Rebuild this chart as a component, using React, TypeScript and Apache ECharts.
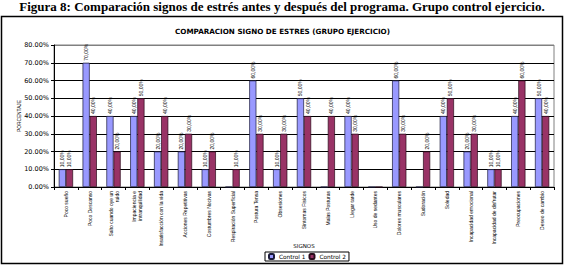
import React, { useEffect, useRef } from "react";
import * as echarts from "echarts";

const categories = [
  "Poco sueño",
  "Poco Descanso",
  "Salto cuando oye un\nruido",
  "Impaciencia e\nintranquilidad",
  "Insatisfacción con la vida",
  "Acciones Repetitivas",
  "Costumbres Nocivas",
  "Respiración Superficial",
  "Postura Tensa",
  "Obsesiones",
  "Síntomas Físicos",
  "Malas Posturas",
  "Llegar tarde",
  "Uso de sedantes",
  "Dolores musculares",
  "Sudoración",
  "Soledad",
  "Incapacidad emocional",
  "Incapacidad de disfrutar",
  "Preocupaciones",
  "Deseo de cambio",
];
const control1 = [10, 70, 40, 40, 20, 20, 10, 0, 60, 10, 50, 0, 40, 0, 60, 0, 40, 20, 10, 40, 50];
const control2 = [10, 40, 20, 50, 40, 30, 20, 10, 30, 30, 40, 40, 30, 0, 30, 20, 50, 30, 10, 60, 40];
const seriesNames = ["Control 1", "Control 2"];
const yTicks = { min: 0, max: 80, interval: 10 };

const caption =
  "Figura 8: Comparación signos de estrés antes y después del programa. Grupo control ejercicio.";
const chartTitle = "COMPARACION SIGNO DE ESTRES (GRUPO EJERCICIO)";

export default function App() {
  const ref = useRef<HTMLDivElement>(null);
  useEffect(() => {
    if (!ref.current) return;
    const chart = echarts.init(ref.current, null, { renderer: "svg" });
    const valueLabel = {
      show: true,
      position: "top",
      rotate: 90,
      align: "left",
      verticalAlign: "middle",
      distance: 2,
      fontSize: 5,
      fontFamily: "Liberation Sans",
      color: "#000",
      formatter: (p: any) => (p.value ? `${Number(p.value).toFixed(2).replace(".", ",")}%` : ""),
    };
    chart.setOption({
      animation: false,
      backgroundColor: "#fff",
      title: {
        text: chartTitle,
        left: "center",
        top: 23,
        textStyle: { fontSize: 7.2, fontFamily: "DejaVu Sans", fontWeight: "bold", color: "#000" },
      },
      graphic: [
        {
          type: "rect",
          z: -10,
          shape: { x: 1.5, y: 16.5, width: 561, height: 247 },
          style: { fill: "#fff", stroke: "#000", lineWidth: 1.5 },
        },
        {
          type: "text",
          x: 282,
          y: 0,
          style: {
            text: caption,
            font: 'bold 13px "Liberation Serif", "Times New Roman", serif',
            fill: "#000",
            align: "center",
            verticalAlign: "top",
          },
        },
      ],
      legend: {
        data: seriesNames,
        left: 265,
        top: 252,
        itemWidth: 5,
        itemHeight: 5,
        itemGap: 3,
        padding: [1, 3],
        borderColor: "#000",
        borderWidth: 1,
        textStyle: { fontSize: 5.8, fontFamily: "DejaVu Sans", color: "#000" },
      },
      grid: {
        left: 54,
        right: 11,
        top: 45,
        bottom: 79,
        show: true,
        backgroundColor: "#fff",
        borderColor: "#808080",
        borderWidth: 1,
      },
      xAxis: {
        type: "category",
        data: categories,
        name: "SIGNOS",
        nameLocation: "middle",
        nameGap: 56,
        nameMoveOverlap: false,
        nameTextStyle: { fontSize: 5.5, fontFamily: "DejaVu Sans", color: "#000" },
        axisLine: { lineStyle: { color: "#000", width: 1 } },
        axisTick: { show: true, length: 3, lineStyle: { color: "#000" } },
        axisLabel: {
          rotate: 90,
          interval: 0,
          margin: 4,
          fontSize: 5,
          lineHeight: 6,
          fontFamily: "'Liberation Sans Narrow', 'Liberation Sans'",
          color: "#000",
        },
      },
      yAxis: {
        type: "value",
        min: yTicks.min,
        max: yTicks.max,
        interval: yTicks.interval,
        name: "PORCENTAJE",
        nameLocation: "middle",
        nameGap: 32,
        nameMoveOverlap: false,
        nameTextStyle: { fontSize: 4.8, fontFamily: "'Liberation Sans Narrow', 'Liberation Sans'", color: "#000" },
        axisLine: { show: true, lineStyle: { color: "#000", width: 1 } },
        axisTick: { show: true, length: 3, lineStyle: { color: "#000" } },
        axisLabel: {
          margin: 5,
          fontSize: 6.5,
          fontFamily: "DejaVu Sans",
          color: "#000",
          formatter: (v: number) => `${v.toFixed(2)}%`,
        },
        splitLine: {
          show: true,
          lineStyle: {
            color: ["#000", "#000", "#000", "#000", "#000", "#000", "#000", "#000", "#808080"],
            width: 1,
          },
        },
      },
      series: [
        {
          name: seriesNames[0],
          type: "bar",
          data: control1,
          barGap: "0%",
          barCategoryGap: "40%",
          itemStyle: { color: "#9999FF", borderColor: "#1a1a3a", borderWidth: 0.7 },
          label: valueLabel,
        },
        {
          name: seriesNames[1],
          type: "bar",
          data: control2,
          barGap: "0%",
          barCategoryGap: "40%",
          itemStyle: { color: "#993366", borderColor: "#2a0a1a", borderWidth: 0.7 },
          label: valueLabel,
        },
      ],
    });
    return () => chart.dispose();
  }, []);
  return (
    <div
      ref={ref}
      style={{ position: "absolute", left: 0, top: 0, width: 565, height: 266 }}
    />
  );
}
